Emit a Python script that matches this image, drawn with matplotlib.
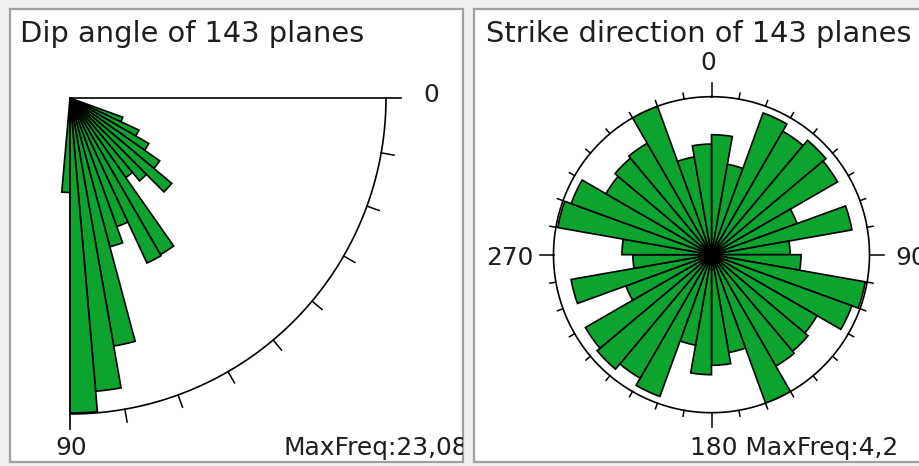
import numpy as np
import matplotlib
matplotlib.use('Agg')
import matplotlib.pyplot as plt

W, H = 919, 466

# dip histogram: 5 degree bins (bin start), frequency in %
dip_bins = [20, 25, 30, 35, 40, 45, 50, 55, 60, 65, 70, 75, 80, 85, 90]
dip_freq = [4.1, 5.55, 6.65, 8.0, 9.7, 7.9, 7.1, 13.2, 13.3, 10.0, 11.25, 18.4, 21.5, 23.0, 6.9]
dip_max = 23.08

# strike rose: 10 degree bins clockwise from north, frequency in %
strike_bins = list(range(0, 360, 10))
strike_freq = [3.19, 2.44, 4.01, 3.79, 3.97, 3.87, 2.42, 3.79, 2.09,
               2.38, 4.15, 3.97, 3.24, 3.35, 3.42, 4.2, 2.64, 2.94,
               3.19, 2.44, 4.01, 3.79, 3.97, 3.87, 2.42, 3.79, 2.09,
               2.38, 4.15, 3.97, 3.24, 3.35, 3.42, 4.2, 2.64, 2.94]
strike_max = 4.2

green = '#0ca32e'
txt = '#1e1e1e'
title_size = 20.8
label_size = 17.9

fig = plt.figure(figsize=(W / 100, H / 100), dpi=100)
fig.patch.set_facecolor('#f0f0f0')


def px_axes(x0, y0, x1, y1, **kw):
    # axes placed by pixel box (y measured from the top)
    return fig.add_axes([x0 / W, (H - y1) / H, (x1 - x0) / W, (y1 - y0) / H], **kw)


def frame(x0, y0, x1, y1):
    ax = px_axes(x0, y0, x1, y1)
    ax.set_xlim(x0, x1)
    ax.set_ylim(y1, y0)
    ax.set_xticks([])
    ax.set_yticks([])
    ax.set_facecolor('white')
    for s in ax.spines.values():
        s.set_color('#a0a0a0')
        s.set_linewidth(1.6)
    return ax


left = frame(10, 9, 463, 462)
right = frame(474, 9, 940, 462)

left.text(20, 42, 'Dip angle of 143 planes', fontsize=title_size, color=txt, va='baseline', clip_on=True)
left.text(423, 102, '0', fontsize=label_size, color=txt, va='baseline', clip_on=True)
left.text(71.5, 455, '90', fontsize=label_size, color=txt, va='baseline', ha='center', clip_on=True)
left.text(283, 455, 'MaxFreq:23,08', fontsize=label_size, color=txt, va='baseline', clip_on=True)

right.text(486, 42, 'Strike direction of 143 planes', fontsize=title_size, color=txt, va='baseline', clip_on=True)
right.text(708.5, 70, '0', fontsize=label_size, color=txt, va='baseline', ha='center', clip_on=True)
right.text(486, 265, '270', fontsize=label_size, color=txt, va='baseline', clip_on=True)
right.text(895, 265, '90', fontsize=label_size, color=txt, va='baseline', clip_on=True)
right.text(690, 455, '180 MaxFreq:4,2', fontsize=label_size, color=txt, va='baseline', clip_on=True)

# dip angle quarter rose
cx, cy, R = 70, 98, 316
axd = px_axes(cx - R, cy - R, cx + R, cy + R, projection='polar')
axd.set_theta_zero_location('E')
axd.set_theta_direction(-1)
axd.set_ylim(0, dip_max)
axd.set_axis_off()
axd.bar(np.deg2rad(dip_bins), dip_freq, width=np.deg2rad(5), align='edge',
        color=green, edgecolor='black', linewidth=1.2)
t = np.deg2rad(np.linspace(0, 90, 200))
axd.plot(t, np.full_like(t, dip_max), color='black', lw=1.2, clip_on=False)
ext = dip_max * (1 + 15 / R)
for a in [0, 90]:
    axd.plot([np.deg2rad(a)] * 2, [0, ext], color='black', lw=1.2, clip_on=False)
for a in range(10, 90, 10):
    axd.plot([np.deg2rad(a)] * 2, [dip_max, dip_max * (1 + 13 / R)], color='black', lw=1.1, clip_on=False)

# strike direction rose
cx, cy, R = 711.5, 254.7, 158
axs = px_axes(cx - R, cy - R, cx + R, cy + R, projection='polar')
axs.set_theta_zero_location('N')
axs.set_theta_direction(-1)
axs.set_ylim(0, strike_max)
axs.set_axis_off()
axs.bar(np.deg2rad(strike_bins), strike_freq, width=np.deg2rad(10), align='edge',
        color=green, edgecolor='black', linewidth=1.2)
t = np.deg2rad(np.linspace(0, 360, 400))
axs.plot(t, np.full_like(t, strike_max), color='black', lw=1.2, clip_on=False)
for a in range(0, 360, 10):
    L = 14 if a % 90 == 0 else 6
    axs.plot([np.deg2rad(a)] * 2, [strike_max, strike_max * (1 + L / R)], color='black', lw=1.1, clip_on=False)

fig.savefig('out.png', dpi=100, facecolor=fig.get_facecolor())
